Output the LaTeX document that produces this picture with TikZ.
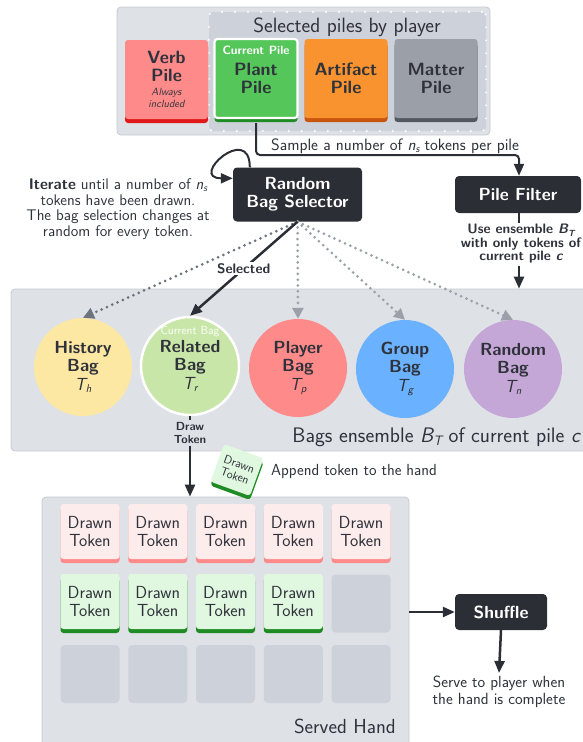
\documentclass[tikz,border=0pt]{standalone}
\usepackage{fontspec}
\usepackage{graphicx}
\usetikzlibrary{arrows.meta}

\definecolor{ink}{HTML}{2F323A}
\definecolor{boxdark}{HTML}{2B2E35}
\definecolor{panelgray}{HTML}{DEE1E6}
\definecolor{panelline}{HTML}{C6CAD0}
\definecolor{slotgray}{HTML}{CDD2DA}
\definecolor{verbred}{HTML}{FF8A8A}
\definecolor{verbrim}{HTML}{E0191B}
\definecolor{plantgreen}{HTML}{55C65A}
\definecolor{plantrim}{HTML}{1F8B24}
\definecolor{artorange}{HTML}{F89330}
\definecolor{artrim}{HTML}{C9560F}
\definecolor{mattergray}{HTML}{9A9FA8}
\definecolor{matterrim}{HTML}{54585F}
\definecolor{histyellow}{HTML}{FDE8A3}
\definecolor{relgreen}{HTML}{C7E6A8}
\definecolor{groupblue}{HTML}{6AB1FF}
\definecolor{randpurple}{HTML}{C4A7D7}
\definecolor{tokred}{HTML}{FDECEC}
\definecolor{tokgreen}{HTML}{E0F8E0}
\definecolor{dotdark}{HTML}{6E747E}
\definecolor{dotlight}{HTML}{9CA1A9}

\newcommand{\tsub}[1]{\raisebox{-0.35ex}{\scalebox{0.65}{#1}}}

\begin{document}
\begin{tikzpicture}[x=1pt, y=1pt,
  every node/.style={font=\sffamily, text=ink, inner sep=0pt},
  panel/.style={fill=panelgray, draw=panelline, line width=0.8, rounded corners=4pt},
  pile/.style={rounded corners=3pt, minimum width=83, minimum height=79, align=center,
    font=\sffamily\bfseries\fontsize{17.8}{18}\selectfont,
    preaction={fill=#1, transform canvas={yshift=-4pt}}},
  bag/.style={circle, minimum size=98, align=center,
    font=\sffamily\bfseries\fontsize{17.5}{18.5}\selectfont},
  darkbox/.style={fill=boxdark, rounded corners=4pt, text=white, align=center,
    font=\sffamily\bfseries\fontsize{17.5}{18}\selectfont},
  token/.style={rounded corners=3pt, minimum width=59, minimum height=55, align=center,
    font=\sffamily\fontsize{17.5}{18}\selectfont,
    preaction={fill=#1, transform canvas={yshift=-4pt}}},
  slot/.style={fill=slotgray, rounded corners=4pt, minimum width=59, minimum height=58},
  flow/.style={line width=2.5, draw=boxdark, -{Triangle[length=12pt,width=10pt]}},
  dotarrow/.style={line width=3, draw=#1, dash pattern=on 0pt off 5.8pt, line cap=round,
    -{Triangle[length=11pt,width=11pt,fill=#1]}},
]
  \useasboundingbox (0,0) rectangle (583,-742);

  % piles
  \node[panel, minimum width=373, minimum height=128] (pilepanel) at (303.5,-71) {};
  \node[fill=slotgray, draw=white, line width=2.2, dash pattern=on 0pt off 13pt, line cap=round,
        rounded corners=4pt, minimum width=277, minimum height=119] (chosen) at (347.5,-71.5) {};
  \node[font=\sffamily\fontsize{20.7}{22}\selectfont] (chosenlbl) at (347,-27) {Selected piles by player};

  \node[pile=verbrim, fill=verbred] (verb) at (166.5,-79.5)
    {Verb\\Pile\\[-4pt]{\fontsize{10.5}{9.5}\selectfont\mdseries\itshape Always}\\[-6pt]{\fontsize{10.5}{9.5}\selectfont\mdseries\itshape included}};
  \node[pile=plantrim, fill=plantgreen, draw=white, line width=2.2] (plant) at (256,-78.5) {Plant\\Pile};
  \node[font=\sffamily\bfseries\fontsize{12}{13}\selectfont, text=white] (curpile) at (256,-50) {Current Pile};
  \node[pile=artrim, fill=artorange] (artifact) at (346,-78.5) {Artifact\\Pile};
  \node[pile=matterrim, fill=mattergray] (matter) at (436,-78.5) {Matter\\Pile};

  % selector and filter
  \node[darkbox, minimum width=129, minimum height=54] (sel) at (297.5,-194.5) {Random\\Bag Selector};
  \node[align=center, font=\sffamily\fontsize{15.4}{15.5}\selectfont] (iter) at (118,-209)
    {\textbf{Iterate} until a number of {\itshape n\tsub{s}}\\tokens have been drawn.\\The bag selection changes at\\random for every token.};
  \draw[flow, line width=2] ([xshift=17]sel.north west) .. controls +(0,45) and +(-45,0) .. ([yshift=-11]sel.north west);

  \coordinate (fx) at (519,-155);
  \node[darkbox, minimum width=126, minimum height=37] (filter) at (518,-194.5) {Pile Filter};
  \node[font=\sffamily\fontsize{16.5}{18}\selectfont, anchor=west] (sample) at (271,-146)
    {Sample a number of {\itshape n\tsub{s}} tokens per pile};
  \draw[flow, line width=2, rounded corners=4pt] ([yshift=-4]plant.south) |- (fx) -- (fx |- filter.north);
  \node[align=center, font=\sffamily\bfseries\fontsize{13.7}{13.5}\selectfont] (use) at (521,-244)
    {Use ensemble {\itshape B\tsub{T}}\\with only tokens of\\current pile {\itshape c}};

  % bags
  \node[panel, minimum width=590, minimum height=162] (bagset) at (306,-370) {};
  \node[font=\sffamily\fontsize{21}{22}\selectfont, anchor=east] (bagsetlbl) at (580,-437)
    {Bags ensemble {\itshape B\tsub{T}} of current pile {\itshape c}};
  \draw[line width=2.5, draw=boxdark] (fx |- filter.south) -- ([yshift=1]fx |- use.north);
  \draw[flow] ([yshift=-2]fx |- use.south) -- (fx |- bagset.north);

  \node[bag, fill=histyellow] (hist) at (83,-367) {History\\Bag\\{\mdseries\itshape T\tsub{h}}};
  \node[bag, fill=relgreen, draw=white, line width=2.5] (rel) at (190,-366) {Related\\Bag\\{\mdseries\itshape T\tsub{r}}};
  \node[font=\sffamily\fontsize{11.7}{12}\selectfont, text=white] (curbag) at (190,-332) {Current Bag};
  \node[bag, fill=verbred] (player) at (298,-368) {Player\\Bag\\{\mdseries\itshape T\tsub{p}}};
  \node[bag, fill=groupblue] (group) at (405,-369) {Group\\Bag\\{\mdseries\itshape T\tsub{g}}};
  \node[bag, fill=randpurple] (rand) at (513,-369) {Random\\Bag\\{\mdseries\itshape T\tsub{n}}};

  \draw[dotarrow=dotdark] (sel.south) -- (hist.north);
  \draw[dotarrow=dotlight] (sel.south) -- (player.north);
  \draw[dotarrow=dotlight] (sel.south) -- (group.north);
  \draw[dotarrow=dotlight] (sel.south) -- (rand.north);
  \draw[flow] (sel.south) -- node[fill=white, inner sep=1.5pt, font=\sffamily\bfseries\fontsize{13.8}{14}\selectfont] (sellbl) {Selected} (rel.north);

  % hand
  \node[panel, minimum width=367, minimum height=260] (hand) at (225.5,-627) {};
  \node[align=center, font=\sffamily\bfseries\fontsize{11.7}{12.5}\selectfont] (drawlbl) at (190,-433) {Draw\\Token};
  \draw[line width=2.5, draw=boxdark] (rel.south) -- ([yshift=2]drawlbl.north);
  \draw[flow] ([yshift=-2]drawlbl.south) -- (hand.north -| rel.south);

  \node[token=plantrim, fill=tokgreen, minimum width=42, minimum height=40, rotate=-20,
        font=\sffamily\fontsize{12}{12.5}\selectfont] (flytok) at (237,-470) {Drawn\\Token};
  \node[font=\sffamily\fontsize{16}{18}\selectfont, anchor=west] (append) at (271,-472) {Append token to the hand};

  \node[token=verbred, fill=tokred] (ta1) at (90,-531.5) {Drawn\\Token};
  \node[token=verbred, fill=tokred] (ta2) at (157.75,-531.5) {Drawn\\Token};
  \node[token=verbred, fill=tokred] (ta3) at (225.5,-531.5) {Drawn\\Token};
  \node[token=verbred, fill=tokred] (ta4) at (293.25,-531.5) {Drawn\\Token};
  \node[token=verbred, fill=tokred] (ta5) at (361,-531.5) {Drawn\\Token};

  \node[token=plantrim, fill=tokgreen] (tb1) at (90,-601.5) {Drawn\\Token};
  \node[token=plantrim, fill=tokgreen] (tb2) at (157.75,-601.5) {Drawn\\Token};
  \node[token=plantrim, fill=tokgreen] (tb3) at (225.5,-601.5) {Drawn\\Token};
  \node[token=plantrim, fill=tokgreen] (tb4) at (293.25,-601.5) {Drawn\\Token};
  \node[slot] (tb5) at (361,-603.5) {};

  \node[slot] (tc1) at (90,-674) {};
  \node[slot] (tc2) at (157.75,-674) {};
  \node[slot] (tc3) at (225.5,-674) {};
  \node[slot] (tc4) at (293.25,-674) {};
  \node[slot] (tc5) at (361,-674) {};

  \node[font=\sffamily\fontsize{20.4}{22}\selectfont, anchor=east] (handlbl) at (396,-726) {Served Hand};

  \node[darkbox, minimum width=92, minimum height=36] (shuf) at (501,-612) {Shuffle};
  \node[align=center, font=\sffamily\fontsize{16.2}{17}\selectfont] (serve) at (499,-692)
    {Serve to player when\\the hand is complete};
  \draw[flow] (hand.east |- shuf.west) -- (shuf.west);
  \draw[flow] (shuf.south) -- ([yshift=3]serve.north);
\end{tikzpicture}
\end{document}
